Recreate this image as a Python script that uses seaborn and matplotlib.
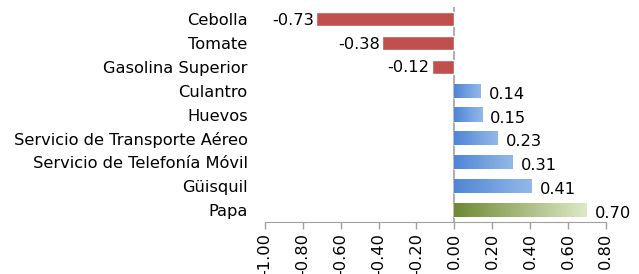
import numpy as np
import pandas as pd
import matplotlib
matplotlib.use("Agg")
import matplotlib.pyplot as plt
import matplotlib.ticker as ticker
from matplotlib.colors import LinearSegmentedColormap
import seaborn as sns

items = ["Cebolla", "Tomate", "Gasolina Superior", "Culantro", "Huevos",
         "Servicio de Transporte Aéreo", "Servicio de Telefonía Móvil",
         "Güisquil", "Papa"]
values = [-0.73, -0.38, -0.12, 0.14, 0.15, 0.23, 0.31, 0.41, 0.70]
xticks = [-1.0, -0.8, -0.6, -0.4, -0.2, 0.0, 0.2, 0.4, 0.6, 0.8]

df = pd.DataFrame({"item": items, "value": values})

sns.set_style("white")
plt.rcParams['font.family'] = ['DejaVu Sans']
plt.rcParams['font.size'] = 11.7
plt.rcParams['text.color'] = 'black'
plt.rcParams['xtick.color'] = 'black'
plt.rcParams['ytick.color'] = 'black'

fig = plt.figure(figsize=(6.39, 2.74), dpi=100)
ax = fig.add_axes([0.4147, 0.19, 0.948 - 0.4147, 0.784])

ax = sns.barplot(data=df, x="value", y="item", orient="h", width=0.59,
                 color="#C0504D", ax=ax)

# gradient fills like the original (red solid, blue / green shaded)
blue = LinearSegmentedColormap.from_list("b", ["#4F86D6", "#93B8E8"])
green = LinearSegmentedColormap.from_list("g", ["#6E8B34", "#DDE8C6"])
grad = np.linspace(0, 1, 64).reshape(1, -1)
for i, p in enumerate(ax.patches):
    v = values[i]
    if v < 0:
        p.set_facecolor("#C0504D")
        continue
    cmap = green if i == len(values) - 1 else blue
    x0, y0 = p.get_x(), p.get_y()
    w, h = p.get_width(), p.get_height()
    p.set_facecolor("none")
    im = ax.imshow(grad, cmap=cmap, aspect="auto", extent=[x0, x0 + w, y0 + h, y0],
                   zorder=p.get_zorder(), interpolation="bilinear")
    im.set_clip_path(p)

for i, v in enumerate(values):
    if v < 0:
        ax.text(v - 0.01, i + 0.05, f"{v:.2f}", ha="right", va="center")
    else:
        ax.text(v + 0.04, i + 0.15, f"{v:.2f}", ha="left", va="center")

ax.axvline(0, color="#A0A0A0", lw=1.2, zorder=0.5)
ax.set_xlim(-1.0, 0.8)
ax.set_ylim(len(items) - 0.5, -0.5)
ax.xaxis.set_major_locator(ticker.FixedLocator(xticks))
ax.xaxis.set_major_formatter(ticker.FuncFormatter(lambda x, _: f"{x:.2f}"))
plt.setp(ax.get_xticklabels(), rotation=90)
ax.tick_params(axis="x", direction="out", length=5, color="#A0A0A0", width=1,
               bottom=True, pad=3)
ax.tick_params(axis="y", length=0, pad=12.5)
ax.set_xlabel("")
ax.set_ylabel("")
for s in ["top", "right", "left"]:
    ax.spines[s].set_visible(False)
ax.spines["bottom"].set_color("#A0A0A0")
ax.grid(False)

fig.savefig("out.png", dpi=100)
